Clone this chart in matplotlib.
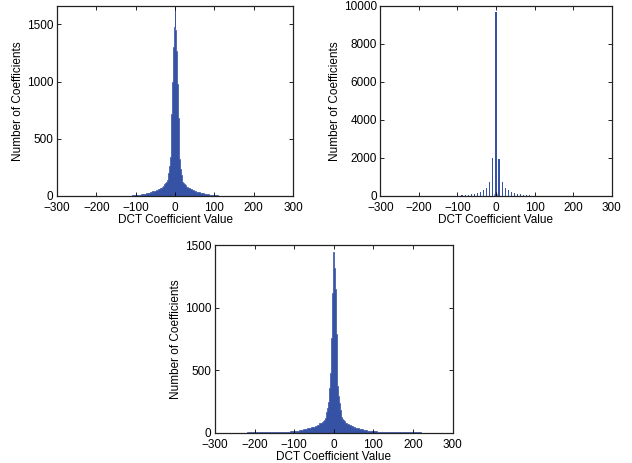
import numpy as np
import matplotlib
matplotlib.use('Agg')
import matplotlib.pyplot as plt

plt.rcParams['font.family'] = ['Liberation Sans', 'DejaVu Sans']
plt.rcParams['font.size'] = 8.5

barColor = '#3652a5'

# bin centres shared by the two dense histograms (top left and bottom)
core = list(range(-32, 33, 2))
mid = list(range(35, 101, 5))
tail = [120, 160, 200, 240, 280]
centres = [-t for t in tail[::-1]] + [-m for m in mid[::-1]] + core + mid + tail

# top left histogram
n1_tailL = [1, 1, 1.5, 2, 4]
n1_midL = [8, 10, 12, 15, 18, 21, 25, 29, 34, 40, 46, 54, 62, 72]
n1_core = [78, 85, 95, 102, 112, 125, 140, 160, 200, 260, 340, 480, 720, 1000, 1300, 1480,
           1655,
           1450, 1270, 980, 680, 460, 320, 240, 180, 145, 125, 115, 105, 98, 90, 82, 76]
n1_midR = [70, 60, 52, 45, 38, 32, 28, 24, 20, 17, 14, 11, 9, 7]
n1_tailR = [4, 2, 1.5, 1, 1]

# bottom histogram
n3_tailL = [1, 1, 2, 3, 7]
n3_midL = [12, 14, 16, 19, 22, 26, 30, 34, 38, 43, 49, 57, 64, 74]
n3_core = [78, 83, 89, 96, 104, 115, 135, 165, 200, 245, 290, 360, 480, 760, 1120, 1300,
           1445,
           1320, 1150, 790, 500, 370, 290, 240, 185, 150, 125, 108, 98, 92, 86, 80, 76]
n3_midR = [72, 63, 55, 47, 41, 36, 32, 28, 24, 20, 17, 15, 13, 12]
n3_tailR = [7, 3, 2, 1, 1]

# top right histogram (quantised coefficients, step 8)
x2 = list(range(-120, 121, 8))
n2 = [5, 8, 12, 20, 30, 45, 60, 90, 120, 170, 230, 320, 440, 740, 2000,
      9700,
      1960, 730, 430, 320, 230, 170, 120, 100, 65, 45, 30, 20, 12, 8, 5]
x2_small = [-4, 4]
n2_small = [90, 80]

n1 = n1_tailL + n1_midL + n1_core + n1_midR + n1_tailR
n3 = n3_tailL + n3_midL + n3_core + n3_midR + n3_tailR

c = np.array(centres, dtype=float)
edges = np.concatenate([[-300], (c[:-1] + c[1:]) / 2, [300]])


def style(ax, ymax, yticks):
    ax.set_xlim(-300, 300)
    ax.set_ylim(0, ymax)
    ax.set_xticks(np.arange(-300, 301, 100))
    ax.set_yticks(yticks)
    ax.tick_params(direction='in', length=3, width=0.6, top=True, right=True,
                   labelsize=8.5, pad=2.5)
    ax.tick_params(axis='x', pad=4.5)
    for s in ax.spines.values():
        s.set_linewidth(0.9)
        s.set_color('#222222')
    ax.set_xlabel('DCT Coefficient Value', labelpad=0)
    ax.set_ylabel('Number of Coefficients', labelpad=2)


fig = plt.figure(figsize=(6.32, 4.63), dpi=100)

ax1 = fig.add_axes([0.0902, 0.5767, 0.3734, 0.4104])
ax1.stairs(n1, edges, fill=True, facecolor=barColor, edgecolor=barColor, linewidth=0.5)
style(ax1, 1660, [0, 500, 1000, 1500])

ax2 = fig.add_axes([0.6017, 0.5767, 0.3661, 0.4104])
ax2.bar(x2, n2, width=3, color=barColor, linewidth=0)
ax2.bar(x2_small, n2_small, width=1.5, color=barColor, alpha=0.5, linewidth=0)
style(ax2, 10000, [0, 2000, 4000, 6000, 8000, 10000])

ax3 = fig.add_axes([0.3402, 0.0654, 0.3761, 0.4054])
ax3.stairs(n3, edges, fill=True, facecolor=barColor, edgecolor=barColor, linewidth=0.5)
style(ax3, 1500, [0, 500, 1000, 1500])

fig.savefig('out.png', dpi=100)
